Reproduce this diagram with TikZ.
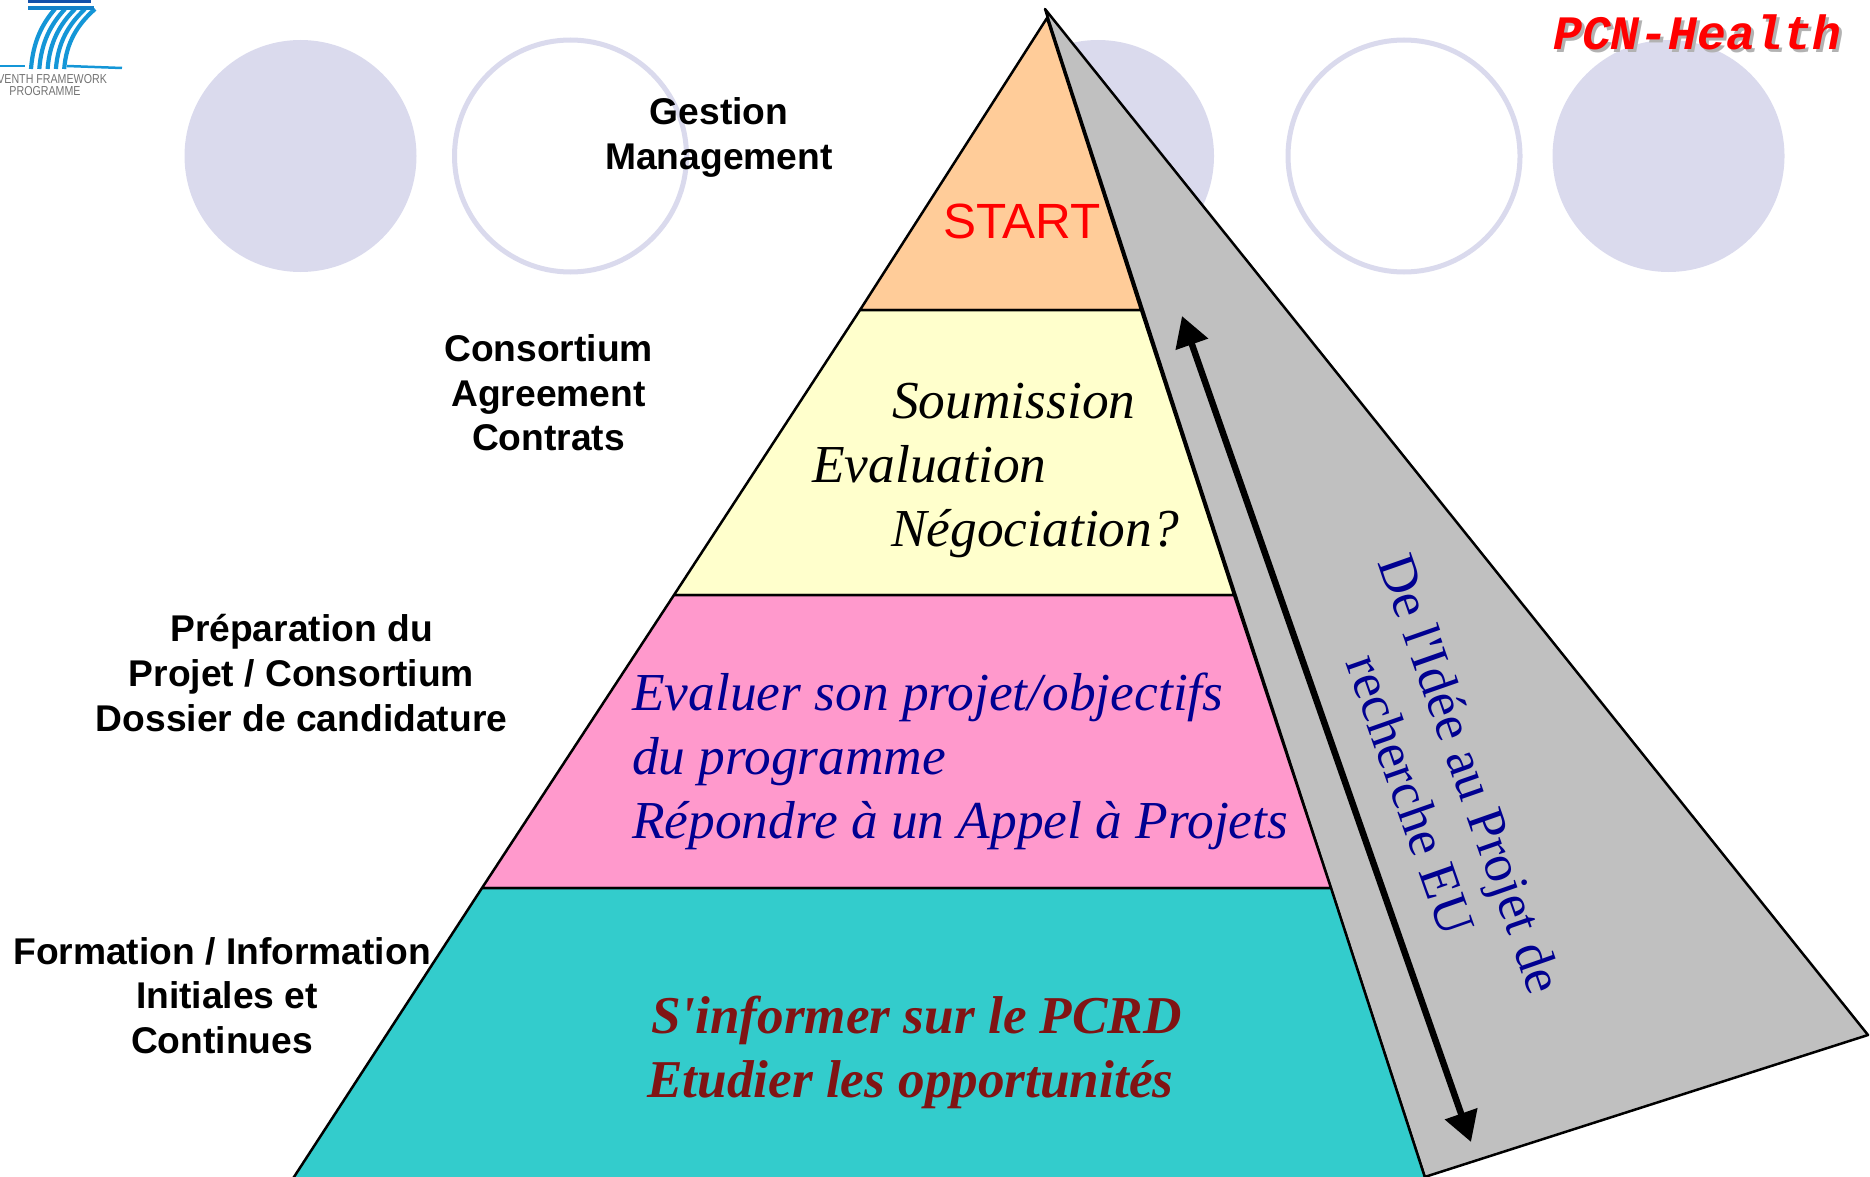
\documentclass[tikz,border=0pt]{standalone}
\usetikzlibrary{arrows.meta}
\usepackage{fontspec}
\setmainfont{Liberation Serif}
\setsansfont{Liberation Sans}
\setmonofont{Liberation Mono}
\newfontfamily\plainserif{Liberation Serif}
\definecolor{circ}{RGB}{218,218,237}
\definecolor{grayface}{RGB}{192,192,192}
\definecolor{orangeface}{RGB}{255,204,153}
\definecolor{yellowface}{RGB}{255,255,204}
\definecolor{pinkface}{RGB}{255,153,204}
\definecolor{tealface}{RGB}{51,204,204}
\definecolor{navytext}{RGB}{0,0,145}
\definecolor{redtext}{RGB}{128,20,20}
\definecolor{logoblue}{RGB}{20,150,215}
\definecolor{logodark}{RGB}{20,80,170}
\tikzset{
 x=1pt,y=-1pt,
 disc/.style={circle,fill=circ,minimum size=232pt,inner sep=0pt},
 ring/.style={circle,draw=circ,line width=5pt,fill=white,minimum size=232pt,inner sep=0pt},
 facet/.style={draw=black,line width=2.5pt,line join=round},
 side/.style={font=\sffamily\bfseries\fontsize{37.2}{44.7}\selectfont,align=center,inner sep=0pt,text=black},
 body/.style={font=\itshape\fontsize{53.4}{64}\selectfont,anchor=base west,inner sep=0pt},
 bodyb/.style={font=\plainserif\itshape\bfseries\fontsize{53.2}{64}\selectfont,anchor=base west,inner sep=0pt,text=redtext},
 swoosh/.style={draw=logoblue,line width=4.2pt},
}
\begin{document}
\begin{tikzpicture}
\useasboundingbox (0,0) rectangle (1870,1177);
\clip (0,0) rectangle (1870,1177);
% background circles
\node[disc] (c1) at (300.5,156) {};
\node[ring] (c2) at (570.5,156) {};
\node[disc] (c3) at (1098,156) {};
\node[ring] (c4) at (1404,156) {};
\node[disc] (c5) at (1668.5,156) {};
% logo
\foreach \d in {0,1,2,3,4}{
 \draw[swoosh] ({31+8.3*\d},69) .. controls ({33+8.3*\d},42) and ({42+9*\d},24) .. ({55+10*\d},9);
}
\draw[draw=logodark,line width=3.4pt] (28,1.5) -- (91,1.5);
\draw[draw=logoblue!70!logodark,line width=3.4pt] (28,8) -- (94,8);
\draw[draw=logoblue,line width=2.5pt] (0,66) -- (25,66);
\draw[draw=logoblue,line width=2.5pt] (67,66) -- (122,68);
\node[font=\sffamily\fontsize{13}{12}\selectfont,text=black!55,align=center,inner sep=0pt,xscale=.82,transform shape] (logotext) at (45,85) {SEVENTH FRAMEWORK\\PROGRAMME};
% pyramid
\coordinate (gtop) at (1045,9);
\coordinate (gright) at (1868,1035);
\coordinate (gbot) at (1384,1190);
\coordinate (apex) at (1047,18);
\coordinate (l1) at (860,310);\coordinate (r1) at (1141,310);
\coordinate (l2) at (674,595);\coordinate (r2) at (1234,595);
\coordinate (l3) at (482,888);\coordinate (r3) at (1331,888);
\coordinate (l4) at (285.5,1190);\coordinate (r4) at (1429,1190);
\draw[facet,fill=grayface] (gtop) -- (gright) -- (gbot) -- (r4) -- cycle;
\draw[facet,fill=orangeface] (apex) -- (r1) -- (l1) -- cycle;
\draw[facet,fill=yellowface] (l1) -- (r1) -- (r2) -- (l2) -- cycle;
\draw[facet,fill=pinkface] (l2) -- (r2) -- (r3) -- (l3) -- cycle;
\draw[facet,fill=tealface] (l3) -- (r3) -- (r4) -- (l4) -- cycle;
% arrow
\coordinate (atop) at (1182,316);
\coordinate (abot) at (1471,1142);
\draw[line width=6.5pt,{Triangle[length=30pt,width=33pt]}-{Triangle[length=30pt,width=33pt]}] (atop) -- (abot);
% side labels
\node[side] (lab1) at (719,137.5) {Gestion\\Management};
\node[side] (lab2) at (548.5,393) {Consortium\\Agreement\\Contrats};
\node[side] (lab3) at (301.5,673) {Préparation du\\Projet / Consortium\\Dossier de candidature};
\node[side] (lab4) at (222,995.5) {Formation / Information\\\hspace*{10pt}Initiales et\\Continues};
% body
\node[font=\sffamily\fontsize{49.5}{50}\selectfont,text=red,anchor=base west,inner sep=0pt] (start) at (943,238) {START};
\node[body] (s1) at (892,418) {Soumission};
\node[body] (s2) at (812,482) {Evaluation};
\node[body] (s3) at (891,546) {Négociation?};
\node[body,text=navytext] (e1) at (632,710) {Evaluer son projet/objectifs};
\node[body,text=navytext] (e2) at (632,774) {du programme};
\node[body,text=navytext] (e3) at (632,838) {Répondre à un Appel à Projets};
\node[bodyb] (f1) at (651,1033) {S'informer sur le PCRD};
\node[bodyb] (f2) at (647,1097) {Etudier les opportunités};
\node[font=\plainserif\fontsize{53.4}{64}\selectfont,text=navytext,align=center,rotate=-70.7,inner sep=0pt] (idee) at (1441,784) {De l'Idée au Projet de\\recherche EU};
% title
\node[font=\ttfamily\bfseries\itshape\fontsize{48}{50}\selectfont,text=black!30,anchor=base west,inner sep=0pt] (pcnshadow) at (1556,53) {PCN-Health};
\node[font=\ttfamily\bfseries\itshape\fontsize{48}{50}\selectfont,text=red,anchor=base west,inner sep=0pt] (pcn) at (1553,50) {PCN-Health};
\end{tikzpicture}
\end{document}
